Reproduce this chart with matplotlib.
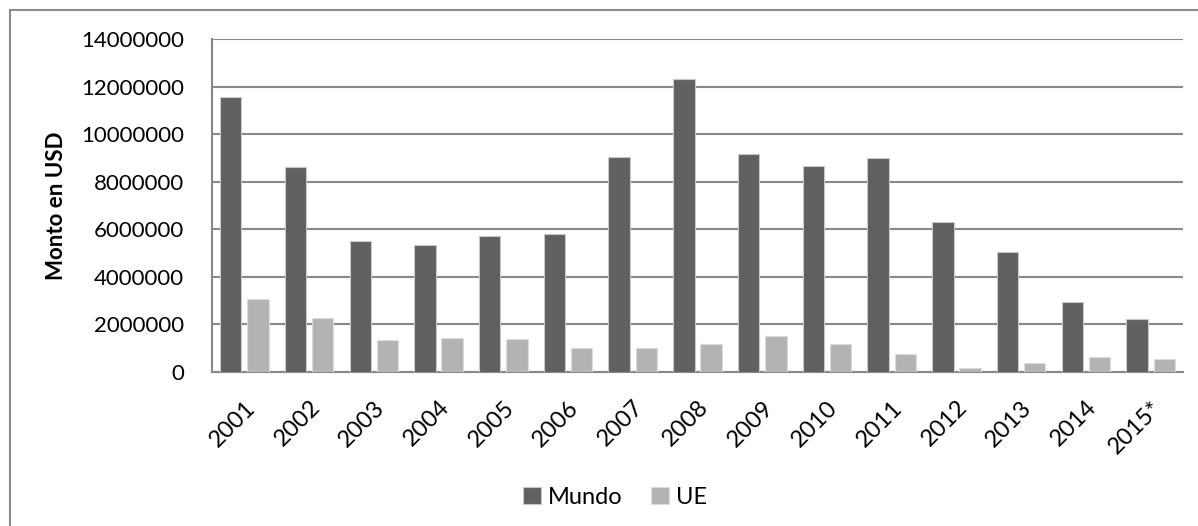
import matplotlib
matplotlib.use('Agg')
import matplotlib.pyplot as plt
from matplotlib.patches import Rectangle
import numpy as np

years = ['2001', '2002', '2003', '2004', '2005', '2006', '2007', '2008',
         '2009', '2010', '2011', '2012', '2013', '2014', '2015*']
mundo = [11540000, 8600000, 5490000, 5330000, 5710000, 5800000, 9040000, 12310000,
         9180000, 8670000, 9010000, 6320000, 5050000, 2920000, 2200000]
ue = [3050000, 2270000, 1330000, 1410000, 1360000, 1010000, 980000, 1150000,
      1490000, 1150000, 760000, 160000, 350000, 630000, 550000]
yticks = [0, 2000000, 4000000, 6000000, 8000000, 10000000, 12000000, 14000000]

plt.rcParams['font.family'] = ['Lato', 'DejaVu Sans']

fig = plt.figure(figsize=(11.98, 5.26), dpi=100)
ax = fig.add_axes([212 / 1198, 1 - 371.7 / 526, (1183 - 212) / 1198, (371.7 - 39) / 526])

x = np.arange(len(years))
w = 0.33
ax.bar(x - 0.21, mundo, w, color='#606060', edgecolor='#c8c8c8', linewidth=0.8,
       label='Mundo', zorder=3)
ax.bar(x + 0.21, ue, w, color='#b3b3b3', edgecolor='#dcdcdc', linewidth=0.8,
       label='UE', zorder=3)

ax.set_xlim(-0.5, len(years) - 0.5)
ax.set_ylim(0, 14000000)
ax.set_yticks(yticks)
ax.set_yticklabels([str(v) for v in yticks], fontsize=16)
ax.yaxis.grid(True, color='#888888', linewidth=1.5, zorder=0)
ax.tick_params(axis='y', length=0, pad=20)
ax.tick_params(axis='x', length=0, pad=18)
ax.set_xticks(x)
ax.set_xticklabels(years, fontsize=17, rotation=45, ha='right', va='top',
                   rotation_mode='anchor')
for s in ['top', 'right']:
    ax.spines[s].set_visible(False)
for s in ['left', 'bottom']:
    ax.spines[s].set_color('#888888')
    ax.spines[s].set_linewidth(1.5)
ax.set_ylabel('Monto en USD', fontsize=16, fontweight='bold', labelpad=10)

fig.legend(loc='center', bbox_to_anchor=(615 / 1198, 1 - 497 / 526), ncol=2,
           frameon=False, fontsize=17, handlelength=0.75, handleheight=0.75,
           handletextpad=0.3, columnspacing=1.2)

# chart area border (only top and left visible in crop)
fig.patches.append(Rectangle((10 / 1198, -0.1), 1.2, 1 - 10 / 526 + 0.1,
                             transform=fig.transFigure, fill=False,
                             edgecolor='#8c8c8c', linewidth=1.5))

plt.savefig('out.png', dpi=100)
plt.close()
